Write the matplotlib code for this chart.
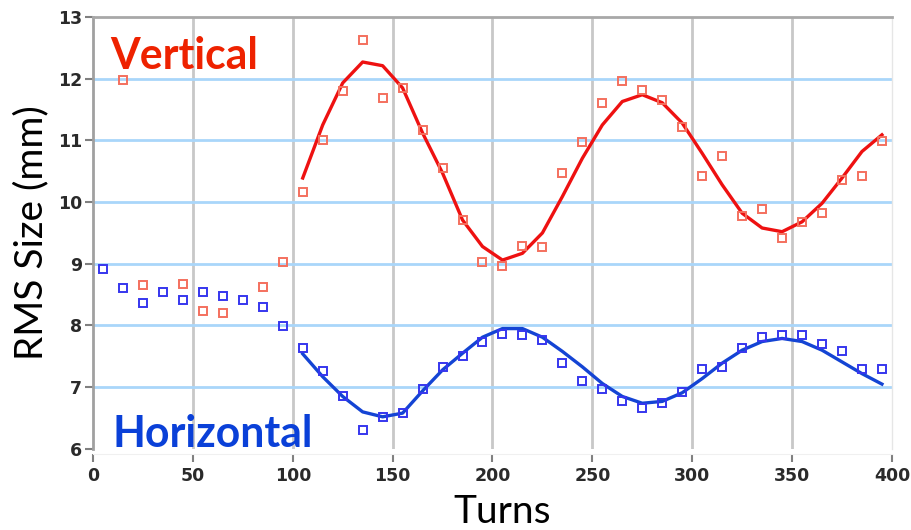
import matplotlib
matplotlib.use("Agg")
import matplotlib.pyplot as plt

# Turns at which the beam size was sampled
turns = [5, 15, 25, 35, 45, 55, 65, 75, 85, 95,
         105, 115, 125, 135, 145, 155, 165, 175, 185, 195,
         205, 215, 225, 235, 245, 255, 265, 275, 285, 295,
         305, 315, 325, 335, 345, 355, 365, 375, 385, 395]

# Vertical (red) measured points
vert_turns = [15, 25, 45, 55, 65, 85, 95,
              105, 115, 125, 135, 145, 155, 165, 175, 185, 195,
              205, 215, 225, 235, 245, 255, 265, 275, 285, 295,
              305, 315, 325, 335, 345, 355, 365, 375, 385, 395]
vert_meas = [11.98, 8.65, 8.68, 8.24, 8.21, 8.62, 9.03,
             10.17, 11.0, 11.8, 12.62, 11.68, 11.85, 11.17, 10.55, 9.71, 9.03,
             8.96, 9.29, 9.27, 10.47, 10.98, 11.6, 11.97, 11.81, 11.65, 11.22,
             10.43, 10.75, 9.77, 9.88, 9.42, 9.68, 9.83, 10.35, 10.43, 10.99]

# Horizontal (blue) measured points
horiz_meas = [8.92, 8.60, 8.37, 8.54, 8.42, 8.54, 8.48, 8.42, 8.30, 7.99,
              7.64, 7.27, 6.86, 6.31, 6.51, 6.59, 6.97, 7.32, 7.51, 7.73,
              7.87, 7.85, 7.76, 7.39, 7.10, 6.97, 6.78, 6.66, 6.74, 6.92,
              7.30, 7.32, 7.64, 7.81, 7.85, 7.85, 7.70, 7.59, 7.30, 7.30]

# Fitted curves, from turn 105 onwards
fit_turns = turns[10:]
vert_fit = [10.39, 11.25, 11.93, 12.27, 12.21, 11.85, 11.12, 10.47, 9.71, 9.28,
            9.06, 9.17, 9.50, 10.09, 10.71, 11.25, 11.63, 11.74, 11.61, 11.28,
            10.79, 10.28, 9.82, 9.58, 9.52, 9.68, 9.98, 10.39, 10.82, 11.09]
horiz_fit = [7.54, 7.17, 6.85, 6.60, 6.52, 6.58, 6.94, 7.28, 7.55, 7.81,
             7.95, 7.95, 7.81, 7.58, 7.33, 7.06, 6.85, 6.74, 6.77, 6.91,
             7.14, 7.39, 7.60, 7.74, 7.79, 7.74, 7.60, 7.41, 7.22, 7.05]

x_ticks = [0, 50, 100, 150, 200, 250, 300, 350, 400]
y_ticks = [6, 7, 8, 9, 10, 11, 12, 13]

fig = plt.figure(figsize=(9.12, 5.30), dpi=100)
ax = fig.add_axes([0.102, 0.153, 0.876, 0.815])

ax.set_xlim(0, 400)
ax.set_ylim(6, 13)

# spines first: moving a spine resets the ticks
ax.spines["left"].set_color("#a0a0a0")
ax.spines["left"].set_linewidth(2)
ax.spines["top"].set_color("#a8a8a8")
ax.spines["top"].set_linewidth(2)
ax.spines["right"].set_color("#e6e6e6")
ax.spines["right"].set_linewidth(1)
ax.spines["bottom"].set_color("#f0f0f0")
ax.spines["bottom"].set_position(("outward", 4))

# grid: gray verticals, light-blue horizontals
for xv in x_ticks[1:-1]:
    ax.axvline(xv, color="#c8c8c8", lw=2, zorder=0)
for yv in y_ticks[1:-1]:
    ax.axhline(yv, color="#a9d6fa", lw=2, zorder=0)

ax.plot(fit_turns, vert_fit, color="#ee1111", lw=2.4, zorder=3)
ax.plot(fit_turns, horiz_fit, color="#1444d4", lw=2.4, zorder=3)

ax.plot(vert_turns, vert_meas, ls="none", marker="s", ms=6, mfc="none",
        mec="#f4705e", mew=1.4, zorder=4)
ax.plot(turns, horiz_meas, ls="none", marker="s", ms=6, mfc="none",
        mec="#3636ee", mew=1.4, zorder=4)

ax.set_xticks(x_ticks)
ax.set_yticks(y_ticks)
tick_font = dict(family="DejaVu Sans", weight="bold", size=12.5)
ax.set_xticklabels([str(v) for v in x_ticks], fontdict=tick_font, color="#2a2a2a")
ax.set_yticklabels([str(v) for v in y_ticks], fontdict=tick_font, color="#2a2a2a")
ax.tick_params(axis="y", direction="out", length=6, width=1.5, color="#808080", pad=2)
ax.tick_params(axis="x", direction="out", length=6, width=1.5, color="#808080", pad=3)

ax.set_ylabel("RMS Size (mm)", family="Lato", size=28, color="black", labelpad=6)
ax.set_xlabel("Turns", family="Lato", size=28, color="black")
ax.xaxis.set_label_coords(0.512, -0.105)

ax.text(0.022, 0.955, "Vertical", transform=ax.transAxes, family="Lato",
        weight="bold", size=30.8, color="#ee2200", va="top", ha="left")
ax.text(0.025, -0.012, "Horizontal", transform=ax.transAxes, family="Lato",
        weight="bold", size=30.8, color="#0a40d8", va="bottom", ha="left")

fig.savefig("out.png", dpi=100)
